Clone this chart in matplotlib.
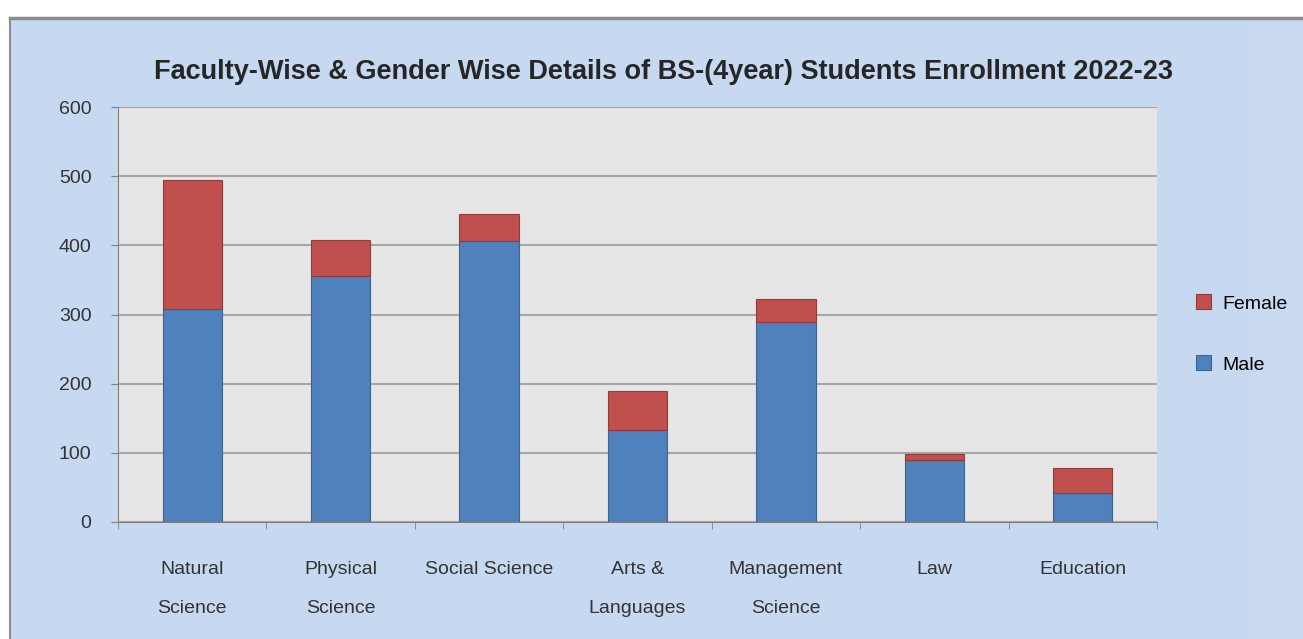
import matplotlib
matplotlib.use("Agg")
import matplotlib.pyplot as plt
import numpy as np
from matplotlib.patches import Rectangle

categories = ["Natural\nScience", "Physical\nScience", "Social Science", "Arts &\nLanguages",
              "Management\nScience", "Law", "Education"]
male = [308, 355, 406, 133, 289, 90, 42]
female = [186, 52, 40, 56, 33, 8, 36]
yticks = [0, 100, 200, 300, 400, 500, 600]

plt.rcParams['font.family'] = ['Liberation Sans', 'DejaVu Sans']

W, H = 1303, 639
fig = plt.figure(figsize=(W/100, H/100), dpi=100)
fig.patch.set_facecolor('white')
# chart area background
fig.patches.append(Rectangle((10/W, 0), 1240/W, 1 - 18/H, transform=fig.transFigure,
                             facecolor='#c6d9f1', edgecolor='none', zorder=-2))
fig.patches.append(Rectangle((1250/W, 0), 53/W, 1 - 18/H, transform=fig.transFigure,
                             facecolor='#c9daf0', edgecolor='none', zorder=-2))
fig.lines.append(plt.Line2D([10/W, 1/1], [1 - 18/H, 1 - 18/H], transform=fig.transFigure,
                            color='#8c8c8c', lw=2.5, zorder=-1))
fig.lines.append(plt.Line2D([10/W, 10/W], [0, 1 - 18/H], transform=fig.transFigure,
                            color='#8c8c8c', lw=1.5, zorder=-1))

ax = fig.add_axes([118/W, 1 - 522/H, (1157-118)/W, (522-107)/H])
ax.set_zorder(2)
ax.set_facecolor('#e6e6e6')
x = np.arange(len(categories))
ax.bar(x, male, width=0.4, color='#4f81bd', edgecolor='#3a6494', lw=0.8, label='Male', zorder=3)
ax.bar(x, female, width=0.4, bottom=male, color='#c0504d', edgecolor='#943a38', lw=0.8,
       label='Female', zorder=3)
ax.set_ylim(0, 600)
ax.set_xlim(-0.5, len(categories) - 0.5)
ax.set_yticks(yticks)
ax.set_yticklabels([str(v) for v in yticks], fontsize=14, color='#333333')
ax.yaxis.grid(True, color='#a6a6a6', lw=1.5, zorder=1)
ax.set_axisbelow(True)
ax.set_xticks(x)
ax.set_xticklabels(categories, fontsize=14, color='#333333', linespacing=2.67)
ax.set_xticks(np.arange(len(categories) + 1) - 0.5, minor=True)
ax.tick_params(axis='x', which='major', length=0, pad=28)
ax.tick_params(axis='x', which='minor', length=5, color='#808080', direction='out')
ax.tick_params(axis='y', length=5, color='#808080', pad=14)
for s in ['top', 'right']:
    ax.spines[s].set_visible(False)
ax.spines['left'].set_color('#808080')
ax.spines['bottom'].set_color('#808080')

fig.text(663/W, 1 - 72/H, "Faculty-Wise & Gender Wise Details of BS-(4year) Students Enrollment 2022-23",
         ha='center', va='center', fontsize=19.5, fontweight='bold', color='#262626')

h, l = ax.get_legend_handles_labels()
leg = fig.legend(h[::-1], l[::-1], loc='center left', bbox_to_anchor=(1178/W, 1 - 334/H),
                 frameon=False, fontsize=14, handlelength=0.8, handleheight=0.8,
                 labelspacing=2.2, handletextpad=0.6)

fig.savefig('out.png', dpi=100, facecolor=fig.get_facecolor())
